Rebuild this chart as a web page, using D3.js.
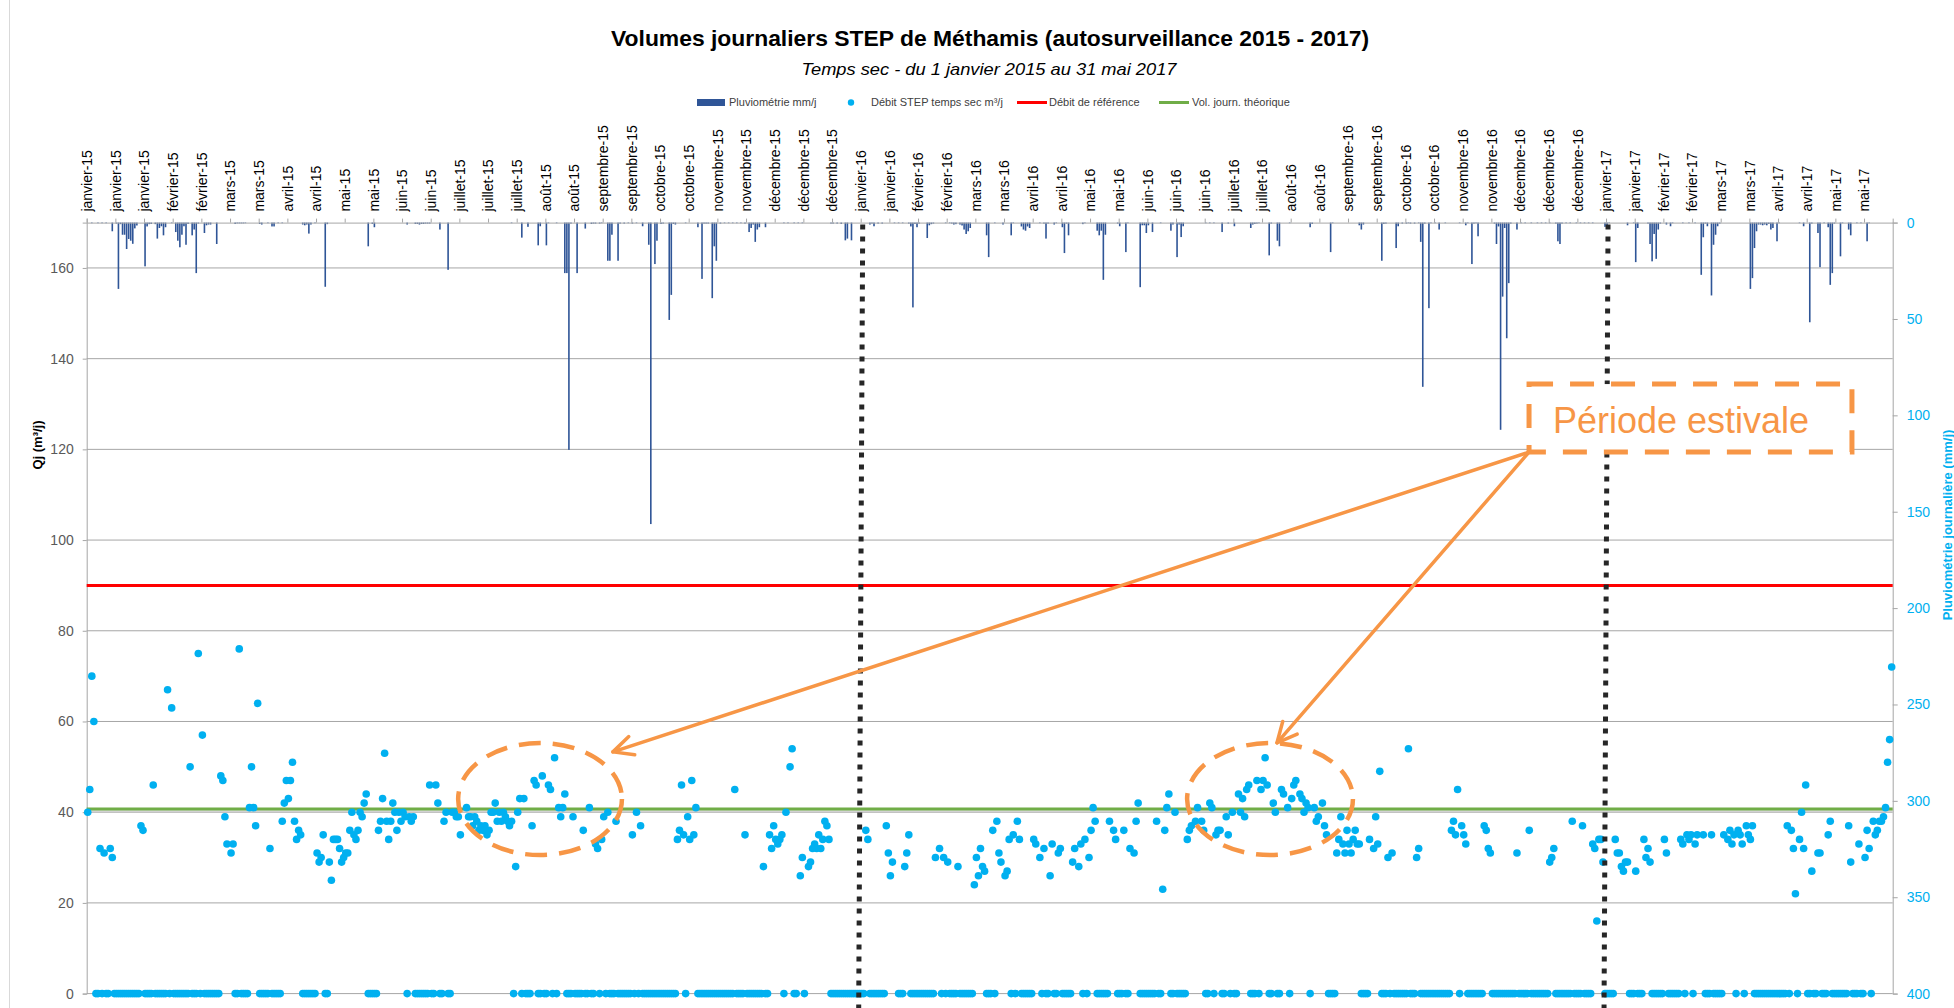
<!DOCTYPE html>
<html>
<head>
<meta charset="utf-8">
<script src="https://cdn.jsdelivr.net/npm/d3@7"></script>
<style>
body { margin: 0; background: #fff; }
svg { display: block; font-family: "Liberation Sans", Arial, sans-serif; }
</style>
</head>
<body>
<svg id="chart" width="1954" height="1008"></svg>
<script>
// jour = nombre de jours depuis le 1er janvier 2015
var moisFr = ["janvier","février","mars","avril","mai","juin","juillet","août","septembre","octobre","novembre","décembre"];

// débit STEP temps sec (m3/j) : [jour, valeur]
var debit2015 = [[0,40],[1,45],[2,70],[3,60],[6,32],[8,31],[11,32],[12,30],[26,37],[27,36],[32,46],[39,67],[41,63],[50,50],[54,75],[56,57],
  [65,48],[66,47],[67,39],[68,33],[70,31],[71,33],[74,76],[79,41],[80,50],[81,41],[82,37],[83,64],[89,32],[95,38],[96,42],[97,47],[98,43],
  [99,47],[100,51],[101,38],[102,34],[103,36],[104,35],[112,31],[113,29],[114,30],[115,35],[118,29],[119,25],[120,34],[121,34],[122,34],
  [123,32],[124,29],[125,30],[126,31],[127,31],[128,36],[129,40],[130,35],[131,34],[132,36],[133,40],[134,39],[135,42],[136,44],[142,36],
  [143,38],[144,43],[145,53],[146,38],[147,34],[148,38],[149,42],[150,40],[151,36],[152,40],[153,38],[154,40],[155,39],[157,39],[158,38],
  [159,39],[167,46],[170,46],[171,42],[174,38],[175,40],[178,40],[179,40],[180,39],[181,39],[182,35],[185,41],[186,39],[187,39],[188,37],
  [189,39],[190,38],[191,36],[192,37],[193,36],[194,37],[195,35],[196,36],[197,40],[198,40],[199,42],[200,38],[201,40],[202,38],[203,40],
  [204,39],[205,38],[206,37],[207,38],[209,28],[210,40],[211,43],[213,43],[217,37],[218,47],[219,46],[222,48],[225,46],[226,45],[228,52],
  [230,41],[231,39],[232,41],[233,44],[237,39],[242,36],[245,41],[248,33],[249,32],[251,34],[252,39],[254,40],[258,38],[266,35],[268,40],
  [270,37],[288,34],[289,36],[290,46],[291,35],[293,39],[294,34],[295,47],[296,35],[297,41],[316,45],[321,35],[330,28],[333,35],[334,32],
  [335,37],[336,34],[337,33],[338,34],[339,35],[341,40],[343,50],[344,54],[348,26],[349,30],[352,28],[353,29],[354,32],[355,33],[356,32],
  [357,35],[358,32],[359,34],[360,38],[361,37],[362,34]];
var debit2016 = [[380,36],[381,34],[390,37],[391,31],[392,26],[393,29],[399,28],[400,31],[401,35],[414,30],[416,32],[418,30],[420,29],
  [425,28],[433,24],[434,30],[435,26],[436,32],[437,28],[438,27],[442,36],[444,38],[445,31],[446,29],[448,26],[449,27],[450,34],[452,35],
  [454,38],[455,34],[462,34],[463,33],[465,30],[467,32],[470,26],[471,33],[474,31],[475,32],[481,29],[482,32],[484,28],[485,33],[487,34],
  [489,30],[490,36],[491,41],[492,38],[499,38],[501,36],[502,34],[506,36],[509,32],[511,31],[512,38],[513,42],[522,38],[525,23],[526,36],
  [527,41],[528,44],[531,40],[537,34],[538,36],[539,37],[541,38],[542,41],[544,38],[545,36],[548,42],[549,41],[551,35],[552,36],[553,36],
  [556,39],[557,35],[559,40],[562,44],[563,40],[564,43],[565,39],[566,45],[567,46],[571,47],[573,45],[574,47],[575,52],[576,46],[579,42],
  [580,40],[583,45],[584,44],[586,41],[588,43],[589,46],[590,47],[592,44],[593,43],[594,40],[595,42],[596,41],[599,41],[600,38],[601,39],
  [603,42],[604,37],[605,35],[610,31],[611,34],[612,39],[613,33],[614,31],[615,36],[616,33],[617,31],[618,34],[619,36],[620,33],[621,33],
  [626,34],[628,32],[629,39],[630,33],[631,49],[635,30],[637,31],[645,54],[649,30],[650,32],[666,36],[667,38],[668,35],[669,45],[671,37],
  [672,35],[673,33],[682,37],[683,36],[684,32],[685,31],[698,31],[704,36],[714,29],[715,30],[716,32],[725,38],[730,37]];
var debit2017 = [[735,33],[736,32],[737,16],[738,34],[739,34],[740,29],[746,34],[747,31],[748,31],[749,28],[750,27],[751,29],[752,29],
  [756,27],[760,34],[761,30],[762,32],[763,29],[770,34],[771,31],[778,34],[779,33],[781,35],[782,34],[783,35],[785,33],[786,35],[789,35],
  [793,35],[799,35],[801,34],[802,36],[803,33],[804,35],[806,36],[807,35],[808,33],[810,37],[811,35],[812,34],[813,37],[830,37],[832,36],
  [833,32],[834,22],[836,34],[837,40],[838,32],[839,46],[842,27],[845,31],[846,31],[850,35],[851,38],[860,37],[861,29],[865,33],[868,30],
  [869,36],[870,32],[872,38],[873,35],[874,36],[875,38],[876,38],[877,39],[878,41],[879,51],[880,56],[881,72]];

// jours de pluie : débit temps sec mis à 0
var joursDebitNul = [4,5,7,9,10,13,14,15,16,17,18,19,20,21,22,23,24,25,28,29,30,31,33,34,35,36,37,38,40,42,43,44,45,46,47,48,49,51,52,53,
  55,57,58,59,60,61,62,63,64,72,73,75,76,77,78,84,85,86,87,88,90,91,92,93,94,105,106,107,108,109,110,111,116,117,137,138,139,140,141,
  156,160,161,162,163,164,165,166,168,169,172,173,176,177,208,212,214,215,216,220,221,223,224,227,229,234,235,236,238,239,240,241,243,
  244,246,247,250,253,255,256,257,259,260,261,262,263,264,265,267,269,271,272,273,274,275,276,277,278,279,280,281,282,283,284,285,286,
  287,292,298,299,300,301,302,303,304,305,306,307,308,309,310,311,312,313,314,315,317,318,319,320,322,323,324,325,326,327,328,329,331,
  332,340,345,346,350,363,364,365,366,367,368,369,370,371,372,373,374,375,376,377,378,379,382,383,384,385,386,387,388,389,396,397,398,
  402,403,404,405,406,407,408,409,410,411,412,413,417,419,421,422,423,424,426,427,428,429,430,431,432,439,440,441,443,451,453,456,457,
  458,459,460,461,466,468,469,472,473,476,477,478,479,480,486,488,493,494,495,496,497,498,503,504,505,507,508,514,515,516,517,518,519,
  520,521,523,524,529,530,532,533,534,535,536,546,547,550,554,555,558,560,561,568,569,570,572,577,578,581,582,587,597,606,607,608,609,
  622,623,624,625,632,633,634,636,638,639,640,641,642,643,644,646,647,648,651,652,653,654,655,656,657,658,659,660,661,662,663,664,665,
  670,674,675,676,677,678,679,680,681,686,687,688,689,690,691,692,693,694,695,696,697,699,700,701,702,703,705,706,707,708,709,710,711,
  712,713,717,718,719,720,721,722,723,724,726,727,728,729,731,732,733,734,741,742,743,744,745,753,754,755,757,758,759,764,765,766,767,
  768,769,772,773,774,775,776,777,780,784,790,791,792,794,795,796,797,798,805,809,814,815,816,817,818,819,820,821,822,823,824,825,826,
  827,828,829,831,835,840,841,843,844,847,848,849,852,853,854,855,856,857,858,859,862,863,864,866,867,871];

// pluviométrie (mm/j) : [jour, mm]
var pluvio = [[2,0.3],[5,0.3],[7,0.3],[9,0.3],[12,4.5],[14,0.5],[15,34.4],[16,0.8],[17,6.3],[18,6.3],[19,13.7],[20,8.5],[21,9.4],[22,11],
  [23,3],[24,1.5],[28,22.7],[29,2],[30,0.8],[31,0.7],[33,0.8],[34,8.3],[35,2.8],[36,1.9],[37,6.6],[38,2.4],[41,0.3],[43,4.9],[44,9.4],
  [45,12.8],[46,6.3],[47,1.9],[48,11.5],[49,0.7],[51,6.6],[52,3.6],[53,26.2],[54,0.5],[57,5.4],[58,1.4],[59,1],[60,1],[63,11.1],[72,0.7],
  [73,0.4],[74,0.4],[75,0.4],[76,0.4],[77,0.3],[84,0.7],[85,1],[88,0.3],[90,2],[91,2],[93,0.3],[95,0.3],[105,1],[106,1.4],[107,1],[108,5.7],
  [109,1],[111,0.3],[116,33.3],[117,0.8],[137,12.3],[139,0.7],[140,2.4],[156,1],[160,0.7],[161,0.7],[162,1],[163,0.7],[164,0.7],[165,0.5],
  [166,0.5],[167,0.5],[172,3.6],[176,24.5],[207,0.3],[212,7.8],[215,2.2],[220,11.8],[221,1.9],[224,11.8],[225,0.3],[229,0.3],[233,26.2],
  [234,26.2],[235,117.9],[236,0.5],[239,26.2],[243,3.1],[246,0.7],[247,0.5],[248,0.5],[250,0.5],[251,0.3],[254,19.8],[255,19.8],[256,6.3],
  [259,19.8],[260,0.5],[262,0.5],[264,0.3],[266,0.5],[268,0.3],[271,1.9],[274,11.5],[275,156.4],[277,21.5],[278,9.4],[280,0.7],[281,0.5],
  [284,50.5],[285,37.5],[286,0.7],[287,1],[292,0.3],[298,2.4],[300,29.2],[301,0.5],[302,0.5],[303,0.5],[305,39.2],[306,12.3],[307,19.8],
  [309,0.5],[311,0.3],[313,0.3],[315,0.3],[317,0.3],[319,0.3],[321,0.5],[323,4.9],[324,2.8],[325,1],[326,10],[327,3.6],[328,2.4],[331,2.4],
  [340,0.3],[342,0.3],[345,0.3],[347,0.3],[349,0.3],[363,0.5],[364,0.5],[366,0.5],[368,0.7],[370,9.2],[371,8.3],[373,9.2],[382,1],[383,0.5],
  [384,1.9],[386,0.5],[388,0.5],[394,0.3],[396,0.3],[398,0.3],[401,0.5],[402,2],[403,44],[404,0.7],[405,2.4],[406,0.5],[410,8],[411,1.4],
  [412,0.8],[413,0.5],[419,0.3],[421,0.3],[422,0.5],[423,1],[424,0.8],[426,1],[427,1.5],[428,3.6],[429,5.9],[430,4.5],[431,2.8],[439,6.6],
  [440,17.9],[443,0.3],[447,1],[451,6.6],[452,0.3],[456,2],[457,3.6],[458,4.2],[459,2],[460,2.8],[465,0.3],[467,0.5],[468,8.3],[469,0.5],
  [472,1],[473,0.3],[476,2.4],[477,15.8],[478,0.5],[479,6.6],[486,0.8],[487,0.3],[493,4.2],[494,6.6],[495,4.2],[496,29.7],[497,6.3],
  [503,0.5],[504,1.9],[507,15.3],[508,0.3],[514,33.5],[515,1.4],[516,1.4],[517,5.4],[518,1.4],[520,4.9],[524,0.3],[529,4.2],[530,1],
  [532,17.9],[533,1],[534,7.5],[535,1.9],[546,0.3],[548,0.3],[550,0.3],[554,4.9],[557,0.5],[560,1.9],[568,2.8],[569,1],[570,0.7],[571,0.5],
  [572,0.3],[577,17],[578,0.5],[581,9.4],[582,12.3],[587,0.3],[597,2.4],[598,0.7],[607,15.3],[608,0.3],[621,1.4],[622,3.6],[623,1],
  [632,19.8],[633,0.7],[634,0.5],[639,13.2],[640,1.9],[642,0.5],[644,0.5],[645,0.3],[646,0.5],[648,0.5],[650,0.3],[651,10],[652,85.2],
  [653,0.5],[655,44.4],[656,0.3],[658,0.3],[660,3.6],[663,0.3],[670,0.3],[673,1.4],[674,0.3],[676,21.5],[677,0.5],[678,0.3],[679,7.1],
  [687,0.5],[688,11.1],[689,2],[690,107.5],[691,38.4],[692,2.8],[693,60],[694,31.4],[695,0.5],[698,3.6],[700,0.3],[702,0.3],[705,0.3],
  [708,0.3],[710,0.3],[712,0.3],[714,0.3],[717,0.5],[718,9.7],[719,11.1],[720,0.5],[722,0.3],[724,0.3],[727,0.3],[729,0.3],[731,0.3],
  [733,0.3],[735,0.3],[741,2.2],[742,1.9],[743,0.3],[752,1.4],[755,0.3],[756,20.5],[757,2.8],[762,0.5],[763,11.1],[764,20.1],[765,5.9],
  [766,18.8],[767,3.6],[768,0.5],[771,1],[773,1.9],[774,0.3],[779,0.3],[782,0.3],[785,0.3],[788,27.1],[789,7.6],[790,0.5],[791,1.9],
  [793,37.8],[794,11.5],[795,6.3],[796,1.9],[797,0.5],[812,34.4],[813,28.8],[814,13.2],[815,4.5],[816,1],[817,1],[818,1.4],[819,1],
  [820,1.4],[821,0.7],[822,3.6],[823,2.8],[825,9.7],[826,0.3],[836,0.3],[838,1.9],[841,51.7],[842,0.5],[845,5.4],[846,23.1],[848,0.3],
  [850,2.4],[851,32.3],[852,26.2],[853,0.5],[856,17.5],[857,0.3],[860,3.6],[861,6.6],[864,0.3],[866,0.3],[869,9.7],[870,0.3]];

var debitReference = 90;
var volTheorique = 40.7;
var ticksGauche = [0, 20, 40, 60, 80, 100, 120, 140, 160];
var ticksDroite = [0, 50, 100, 150, 200, 250, 300, 350, 400];
var nbJours = 882;
var pasEtiquettes = 14;
// lignes pointillées de changement d'année (jour des premières étiquettes janvier)
var joursAnnee = [378, 742];

var svg = d3.select("#chart");
var jour0 = Date.UTC(2015, 0, 1);
function dateJour(j) { return new Date(jour0 + j * 864e5); }

var x = d3.scaleUtc().domain([dateJour(0), dateJour(nbJours)]).range([86.7, 1892.7]);
var yQ = d3.scaleLinear().domain([0, 170]).range([993.6, 222.6]);
var yP = d3.scaleLinear().domain([0, 400]).range([222.6, 993.6]);
var largJour = x(dateJour(1)) - x(dateJour(0));
function xc(j) { return x(dateJour(j + 0.5)); }

var fr = d3.timeFormatLocale({
  dateTime: "%A %e %B %Y à %X", date: "%d/%m/%Y", time: "%H:%M:%S", periods: ["AM", "PM"],
  days: ["dimanche","lundi","mardi","mercredi","jeudi","vendredi","samedi"],
  shortDays: ["dim.","lun.","mar.","mer.","jeu.","ven.","sam."],
  months: moisFr,
  shortMonths: ["janv.","févr.","mars","avr.","mai","juin","juil.","août","sept.","oct.","nov.","déc."]
});
var fmtMois = fr.utcFormat("%B-%y");

// bordure du graphique
svg.append("line").attr("x1", 9.5).attr("x2", 9.5).attr("y1", 0).attr("y2", 1008)
  .attr("stroke", "#d9d9d9");

// quadrillage
svg.append("g").selectAll("line").data(ticksGauche).enter().append("line")
  .attr("x1", 86.7).attr("x2", 1892.7)
  .attr("y1", function(d) { return yQ(d); }).attr("y2", function(d) { return yQ(d); })
  .attr("stroke", "#a6a6a6").attr("stroke-width", 1);

// pluviométrie en barres depuis le haut
svg.append("g").selectAll("rect").data(pluvio).enter().append("rect")
  .attr("x", function(d) { return xc(d[0]) - 0.8; })
  .attr("y", yP(0))
  .attr("width", 1.6)
  .attr("height", function(d) { return yP(d[1]) - yP(0); })
  .attr("fill", "#2f5597");

// axe du haut (dates)
var axeHaut = d3.axisTop(x)
  .tickValues(d3.utcDay.range(dateJour(0), dateJour(nbJours), pasEtiquettes))
  .tickFormat(fmtMois).tickSize(4);
var gHaut = svg.append("g").attr("transform", "translate(0," + yP(0) + ")").call(axeHaut);
gHaut.select(".domain").attr("stroke", "#a6a6a6");
gHaut.selectAll(".tick line").attr("stroke", "#a6a6a6");
gHaut.selectAll(".tick text")
  .attr("transform", "rotate(-90)").attr("x", 11).attr("y", 0).attr("dy", "0.35em")
  .attr("text-anchor", "start").attr("fill", "#000").style("font-size", "14px")
  .style("font-family", "'Liberation Sans', Arial, sans-serif");

// axe gauche
var gG = svg.append("g").attr("transform", "translate(86.7,0)")
  .call(d3.axisLeft(yQ).tickValues(ticksGauche).tickSize(4).tickPadding(9));
gG.select(".domain").attr("stroke", "#a6a6a6");
gG.selectAll(".tick line").attr("stroke", "#a6a6a6");
gG.selectAll(".tick text").attr("fill", "#595959").style("font-size", "14px")
  .style("font-family", "'Liberation Sans', Arial, sans-serif");

// axe droit
var gD = svg.append("g").attr("transform", "translate(1892.7,0)")
  .call(d3.axisRight(yP).tickValues(ticksDroite).tickSize(5).tickPadding(9));
gD.select(".domain").attr("stroke", "#a6a6a6");
gD.selectAll(".tick line").attr("stroke", "#a6a6a6");
gD.selectAll(".tick text").attr("fill", "#00b0f0").style("font-size", "14px")
  .style("font-family", "'Liberation Sans', Arial, sans-serif");

// lignes de référence
svg.append("line").attr("x1", 86.7).attr("x2", 1892.7)
  .attr("y1", yQ(volTheorique) + 2).attr("y2", yQ(volTheorique) + 2)
  .attr("stroke", "#c8c8c8").attr("stroke-width", 3).attr("opacity", 0.6);
svg.append("line").attr("x1", 86.7).attr("x2", 1892.7)
  .attr("y1", yQ(volTheorique)).attr("y2", yQ(volTheorique))
  .attr("stroke", "#70ad47").attr("stroke-width", 3);
svg.append("line").attr("x1", 86.7).attr("x2", 1892.7)
  .attr("y1", yQ(debitReference)).attr("y2", yQ(debitReference))
  .attr("stroke", "#ff0000").attr("stroke-width", 3);

// débit temps sec
var points = debit2015.concat(debit2016, debit2017, joursDebitNul.map(function(j) { return [j, 0]; }));
svg.append("g").selectAll("circle").data(points).enter().append("circle")
  .attr("cx", function(d) { return xc(d[0]); })
  .attr("cy", function(d) { return yQ(d[1]); })
  .attr("r", 3.8)
  .attr("fill", "#00b0f0");

// pointillés début d'année
svg.append("g").selectAll("line").data(joursAnnee).enter().append("line")
  .attr("x1", function(d) { return x(dateJour(d)) + 2; })
  .attr("x2", function(d) { return x(dateJour(d)) - 2; })
  .attr("y1", yP(0) + 2).attr("y2", 1010)
  .attr("stroke", "#262626").attr("stroke-width", 5).attr("stroke-dasharray", "5,7");

// annotations "Période estivale"
var orange = "#f79646";
var ellipses = [{ j: 221.4, v: 42.9, rj: 40, rv: 12.35 }, { j: 577.9, v: 42.9, rj: 40.5, rv: 12.35 }];
svg.append("g").selectAll("ellipse").data(ellipses).enter().append("ellipse")
  .attr("cx", function(d) { return x(dateJour(d.j)); })
  .attr("cy", function(d) { return yQ(d.v); })
  .attr("rx", function(d) { return d.rj * largJour; })
  .attr("ry", function(d) { return yQ(0) - yQ(d.rv); })
  .attr("fill", "none").attr("stroke", orange).attr("stroke-width", 4.5)
  .attr("stroke-dasharray", "22,12");

var depart = [704.4, 119.4];
var cibles = [[257, 53.3], [581.3, 55.3]];
var gFl = svg.append("g").attr("stroke", orange).attr("stroke-width", 3.5).attr("fill", "none")
  .attr("stroke-linecap", "round").attr("stroke-linejoin", "round");
cibles.forEach(function(c) {
  var sx = x(dateJour(depart[0])), sy = yQ(depart[1]);
  var tx = x(dateJour(c[0])), ty = yQ(c[1]);
  var a = Math.atan2(sy - ty, sx - tx), L = 22, th = 0.45;
  gFl.append("path").attr("d", "M" + sx + "," + sy + "L" + tx + "," + ty);
  gFl.append("path").attr("d",
    "M" + (tx + L * Math.cos(a + th)) + "," + (ty + L * Math.sin(a + th)) +
    "L" + tx + "," + ty +
    "L" + (tx + L * Math.cos(a - th)) + "," + (ty + L * Math.sin(a - th)));
});

var boite = { j0: 704.4, j1: 862.1, v0: 119.4, v1: 134.4 };
svg.append("rect")
  .attr("x", x(dateJour(boite.j0))).attr("y", yQ(boite.v1))
  .attr("width", x(dateJour(boite.j1)) - x(dateJour(boite.j0)))
  .attr("height", yQ(boite.v0) - yQ(boite.v1))
  .attr("fill", "#fff").attr("stroke", orange).attr("stroke-width", 5)
  .attr("stroke-dasharray", "24,17");
svg.append("text").attr("x", x(dateJour(778.6))).attr("y", yQ(123.6))
  .attr("text-anchor", "middle").attr("fill", orange)
  .style("font-size", "36px").attr("textLength", 256).attr("lengthAdjust", "spacingAndGlyphs")
  .text("Période estivale");

// titres
svg.append("text").attr("x", 990).attr("y", 46).attr("text-anchor", "middle")
  .style("font-size", "22px").style("font-weight", "bold").attr("fill", "#000")
  .attr("textLength", 758).attr("lengthAdjust", "spacingAndGlyphs")
  .text("Volumes journaliers STEP de Méthamis (autosurveillance 2015 - 2017)");
svg.append("text").attr("x", 989).attr("y", 75).attr("text-anchor", "middle")
  .style("font-size", "17px").style("font-style", "italic").attr("fill", "#000")
  .attr("textLength", 375).attr("lengthAdjust", "spacingAndGlyphs")
  .text("Temps sec - du 1 janvier 2015 au 31 mai 2017");

svg.append("text").attr("transform", "translate(42,445) rotate(-90)").attr("text-anchor", "middle")
  .style("font-size", "13px").style("font-weight", "bold").attr("fill", "#000")
  .text("Qj (m³/j)");
svg.append("text").attr("transform", "translate(1952,525) rotate(-90)").attr("text-anchor", "middle")
  .style("font-size", "13px").style("font-weight", "bold").attr("fill", "#00b0f0")
  .text("Pluviométrie journalière (mm/j)");

// légende
var leg = svg.append("g").style("font-size", "11px").attr("fill", "#404040");
leg.append("rect").attr("x", 697).attr("y", 99).attr("width", 28).attr("height", 7).attr("fill", "#2f5597");
leg.append("text").attr("x", 729).attr("y", 106).text("Pluviométrie mm/j");
leg.append("circle").attr("cx", 851).attr("cy", 102.5).attr("r", 3.2).attr("fill", "#00b0f0");
leg.append("text").attr("x", 871).attr("y", 106).text("Débit STEP temps sec m³/j");
leg.append("line").attr("x1", 1017).attr("x2", 1047).attr("y1", 102.5).attr("y2", 102.5)
  .attr("stroke", "#ff0000").attr("stroke-width", 3);
leg.append("text").attr("x", 1049).attr("y", 106).text("Débit de référence");
leg.append("line").attr("x1", 1159).attr("x2", 1189).attr("y1", 102.5).attr("y2", 102.5)
  .attr("stroke", "#70ad47").attr("stroke-width", 3);
leg.append("text").attr("x", 1192).attr("y", 106).text("Vol. journ. théorique");
</script>
</body>
</html>
